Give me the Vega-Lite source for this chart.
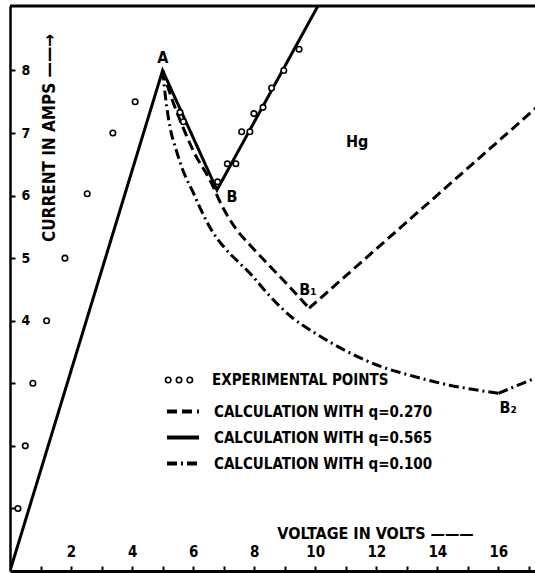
{
  "$schema": "https://vega.github.io/schema/vega-lite/v6.json",
  "width": 525,
  "height": 565,
  "autosize": {"type": "none"},
  "padding": {"left": 10, "top": 6, "right": 0, "bottom": 2},
  "background": "white",
  "resolve": {"axis": {"x": "independent"}},
  "config": {
    "view": {"stroke": null},
    "font": "DejaVu Sans Condensed, Liberation Sans Narrow, DejaVu Sans",
    "axis": {
      "domainColor": "black",
      "tickColor": "black",
      "labelColor": "black",
      "titleColor": "black",
      "grid": false,
      "labelFontWeight": "bold",
      "titleFontWeight": "bold",
      "labelFontSize": 14,
      "titleFontSize": 17,
      "tickSize": -5,
      "tickWidth": 2,
      "labelFlush": false,
      "labelOverlap": false,
      "format": "d"
    },
    "legend": {
      "labelFont": "DejaVu Sans Condensed, Liberation Sans Narrow, DejaVu Sans",
      "labelFontWeight": "bold",
      "labelFontSize": 15,
      "labelColor": "black",
      "padding": 0,
      "labelLimit": 400
    }
  },
  "datasets": {
    "curves": [
      {"series": "CALCULATION WITH q=0.565", "seg": "s", "v": 0, "i": 0},
      {"series": "CALCULATION WITH q=0.565", "seg": "s", "v": 5, "i": 8},
      {"series": "CALCULATION WITH q=0.565", "seg": "s", "v": 6.78, "i": 6.09},
      {"series": "CALCULATION WITH q=0.565", "seg": "s", "v": 10.2, "i": 9.13},
      {"series": "CALCULATION WITH q=0.270", "seg": "d1", "v": 5, "i": 8},
      {"series": "CALCULATION WITH q=0.270", "seg": "d1", "v": 5.3, "i": 7.55},
      {"series": "CALCULATION WITH q=0.270", "seg": "d1", "v": 5.66, "i": 7.1},
      {"series": "CALCULATION WITH q=0.270", "seg": "d1", "v": 6.0, "i": 6.72},
      {"series": "CALCULATION WITH q=0.270", "seg": "d1", "v": 6.6, "i": 6.2},
      {"series": "CALCULATION WITH q=0.270", "seg": "d1", "v": 6.93, "i": 5.85},
      {"series": "CALCULATION WITH q=0.270", "seg": "d1", "v": 7.4, "i": 5.47},
      {"series": "CALCULATION WITH q=0.270", "seg": "d1", "v": 7.86, "i": 5.21},
      {"series": "CALCULATION WITH q=0.270", "seg": "d1", "v": 8.5, "i": 4.88},
      {"series": "CALCULATION WITH q=0.270", "seg": "d1", "v": 9.2, "i": 4.52},
      {"series": "CALCULATION WITH q=0.270", "seg": "d1", "v": 9.8, "i": 4.2},
      {"series": "CALCULATION WITH q=0.270", "seg": "d2", "v": 9.8, "i": 4.2},
      {"series": "CALCULATION WITH q=0.270", "seg": "d2", "v": 17.3, "i": 7.43},
      {"series": "CALCULATION WITH q=0.100", "seg": "c1", "v": 5, "i": 8},
      {"series": "CALCULATION WITH q=0.100", "seg": "c1", "v": 5.1, "i": 7.55},
      {"series": "CALCULATION WITH q=0.100", "seg": "c1", "v": 5.24, "i": 7.1},
      {"series": "CALCULATION WITH q=0.100", "seg": "c1", "v": 5.45, "i": 6.72},
      {"series": "CALCULATION WITH q=0.100", "seg": "c1", "v": 5.66, "i": 6.41},
      {"series": "CALCULATION WITH q=0.100", "seg": "c1", "v": 6.0, "i": 6.05},
      {"series": "CALCULATION WITH q=0.100", "seg": "c1", "v": 6.22, "i": 5.81},
      {"series": "CALCULATION WITH q=0.100", "seg": "c1", "v": 6.6, "i": 5.45},
      {"series": "CALCULATION WITH q=0.100", "seg": "c1", "v": 7.04, "i": 5.16},
      {"series": "CALCULATION WITH q=0.100", "seg": "c1", "v": 7.5, "i": 4.93},
      {"series": "CALCULATION WITH q=0.100", "seg": "c1", "v": 7.86, "i": 4.76},
      {"series": "CALCULATION WITH q=0.100", "seg": "c1", "v": 8.5, "i": 4.4},
      {"series": "CALCULATION WITH q=0.100", "seg": "c1", "v": 9.27, "i": 4.04},
      {"series": "CALCULATION WITH q=0.100", "seg": "c1", "v": 10.0, "i": 3.8},
      {"series": "CALCULATION WITH q=0.100", "seg": "c1", "v": 11.0, "i": 3.52},
      {"series": "CALCULATION WITH q=0.100", "seg": "c1", "v": 12.2, "i": 3.26},
      {"series": "CALCULATION WITH q=0.100", "seg": "c1", "v": 12.87, "i": 3.16},
      {"series": "CALCULATION WITH q=0.100", "seg": "c1", "v": 14.4, "i": 2.97},
      {"series": "CALCULATION WITH q=0.100", "seg": "c1", "v": 15.2, "i": 2.9},
      {"series": "CALCULATION WITH q=0.100", "seg": "c1", "v": 16.0, "i": 2.84},
      {"series": "CALCULATION WITH q=0.100", "seg": "c2", "v": 16.0, "i": 2.84},
      {"series": "CALCULATION WITH q=0.100", "seg": "c2", "v": 17.3, "i": 3.1}
    ],
    "points": [
      {"kind": "EXPERIMENTAL POINTS", "v": 0.26, "i": 1.0},
      {"kind": "EXPERIMENTAL POINTS", "v": 0.5, "i": 2.0},
      {"kind": "EXPERIMENTAL POINTS", "v": 0.75, "i": 3.0},
      {"kind": "EXPERIMENTAL POINTS", "v": 1.2, "i": 4.0},
      {"kind": "EXPERIMENTAL POINTS", "v": 1.8, "i": 5.0},
      {"kind": "EXPERIMENTAL POINTS", "v": 2.53, "i": 6.03},
      {"kind": "EXPERIMENTAL POINTS", "v": 3.37, "i": 7.0},
      {"kind": "EXPERIMENTAL POINTS", "v": 4.1, "i": 7.5},
      {"kind": "EXPERIMENTAL POINTS", "v": 5.57, "i": 7.33},
      {"kind": "EXPERIMENTAL POINTS", "v": 5.68, "i": 7.18},
      {"kind": "EXPERIMENTAL POINTS", "v": 6.8, "i": 6.22},
      {"kind": "EXPERIMENTAL POINTS", "v": 7.12, "i": 6.51},
      {"kind": "EXPERIMENTAL POINTS", "v": 7.4, "i": 6.51},
      {"kind": "EXPERIMENTAL POINTS", "v": 7.59, "i": 7.02},
      {"kind": "EXPERIMENTAL POINTS", "v": 7.86, "i": 7.02},
      {"kind": "EXPERIMENTAL POINTS", "v": 7.99, "i": 7.31},
      {"kind": "EXPERIMENTAL POINTS", "v": 8.29, "i": 7.41},
      {"kind": "EXPERIMENTAL POINTS", "v": 8.57, "i": 7.72},
      {"kind": "EXPERIMENTAL POINTS", "v": 8.97, "i": 8.0},
      {"kind": "EXPERIMENTAL POINTS", "v": 9.47, "i": 8.34}
    ],
    "labels": [
      {"text": "A", "v": 5.01, "i": 8.2},
      {"text": "B", "v": 7.27, "i": 5.98},
      {"text": "B₁", "v": 9.76, "i": 4.49},
      {"text": "B₂", "v": 16.32, "i": 2.6},
      {"text": "Hg", "v": 11.37, "i": 6.86}
    ]
  },
  "layer": [
    {
      "data": {"values": [{"top": 9.03}]},
      "mark": {"type": "rule", "color": "black", "strokeWidth": 3},
      "encoding": {
        "y": {"field": "top", "type": "quantitative"}
      }
    },
    {
      "data": {"name": "curves"},
      "transform": [{"filter": "datum.seg == 's'"}],
      "mark": {"type": "line", "color": "black", "strokeWidth": 3, "clip": true, "strokeCap": "butt", "strokeJoin": "miter"},
      "encoding": {
        "x": {
          "field": "v", "type": "quantitative",
          "scale": {"domain": [0, 17.2], "nice": false, "zero": false},
          "axis": {
            "values": [1,2,3,4,5,6,7,8,9,10,11,12,13,14,15,16,17],
            "labels": false,
            "domainWidth": 3,
            "title": "VOLTAGE IN VOLTS ———",
            "titleFontSize": 16,
            "titleX": 365,
            "titleY": -38,
            "titleAlign": "center",
            "titleBaseline": "middle"
          }
        },
        "y": {
          "field": "i", "type": "quantitative",
          "scale": {"domain": [0, 9.03], "nice": false, "zero": false},
          "axis": {
            "values": [1,2,3,4,5,6,7,8],
            "labelExpr": "datum.value >= 4 ? datum.label : ''",
            "labelOverlap": false,
            "domainWidth": 2.5,
            "labelAlign": "left",
            "labelBaseline": "middle",
            "labelPadding": -6,
            "title": "CURRENT IN AMPS ——→",
            "titleFontSize": 17,
            "titleAngle": 270,
            "titleX": 39.5,
            "titleY": 131.5,
            "titleAlign": "center",
            "titleBaseline": "middle"
          }
        },
        "detail": {"field": "seg"},
        "strokeDash": {
          "field": "series", "type": "nominal",
          "scale": {
            "domain": ["CALCULATION WITH q=0.270", "CALCULATION WITH q=0.565", "CALCULATION WITH q=0.100"],
            "range": [[10, 5], [1, 0], [10, 4, 2, 4]]
          },
          "legend": {
            "orient": "none",
            "legendX": 155,
            "legendY": 387.5,
            "title": null,
            "symbolType": "stroke",
            "symbolSize": 1024,
            "symbolStrokeWidth": 4,
            "symbolStrokeColor": "black",
            "labelOffset": 13,
            "rowPadding": -3.5
          }
        }
      }
    },
    {
      "data": {"name": "curves"},
      "transform": [{"filter": "datum.seg != 's'"}],
      "mark": {"type": "line", "color": "black", "strokeWidth": 3, "clip": true, "strokeCap": "butt", "interpolate": "monotone"},
      "encoding": {
        "x": {"field": "v", "type": "quantitative", "axis": null},
        "y": {"field": "i", "type": "quantitative"},
        "detail": {"field": "seg"},
        "strokeDash": {"field": "series", "type": "nominal"}
      }
    },
    {
      "data": {"name": "points"},
      "mark": {"type": "point", "shape": "circle", "filled": false, "fill": "white", "fillOpacity": 1, "strokeWidth": 1.6, "size": 30},
      "encoding": {
        "x": {"field": "v", "type": "quantitative", "axis": null},
        "y": {"field": "i", "type": "quantitative"},
        "color": {
          "field": "kind", "type": "nominal",
          "scale": {"range": ["black"]},
          "legend": {
            "orient": "none",
            "legendX": 154.5,
            "legendY": 359.5,
            "title": null,
            "symbolType": "M-0.6,0A0.2,0.2,0,1,1,-1,0A0.2,0.2,0,1,1,-0.6,0ZM0.2,0A0.2,0.2,0,1,1,-0.2,0A0.2,0.2,0,1,1,0.2,0ZM1,0A0.2,0.2,0,1,1,0.6,0A0.2,0.2,0,1,1,1,0Z",
            "symbolSize": 729,
            "symbolStrokeWidth": 1.6,
            "symbolFillColor": "white",
            "labelOffset": 18.5
          }
        }
      }
    },
    {
      "data": {"name": "labels"},
      "mark": {"type": "text", "color": "black", "fontWeight": "bold", "fontSize": 16, "align": "center", "baseline": "middle"},
      "encoding": {
        "x": {
          "field": "v", "type": "quantitative",
          "axis": {
            "orient": "top",
            "values": [2,4,6,8,10,12,14,16],
            "domain": false,
            "ticks": true,
            "tickSize": 0,
            "tickOpacity": 0,
            "labelFontSize": 15,
            "labelPadding": -553,
            "labelBaseline": "bottom",
            "labelOverlap": false,
            "title": null
          }
        },
        "y": {"field": "i", "type": "quantitative"},
        "text": {"field": "text"}
      }
    }
  ]
}
